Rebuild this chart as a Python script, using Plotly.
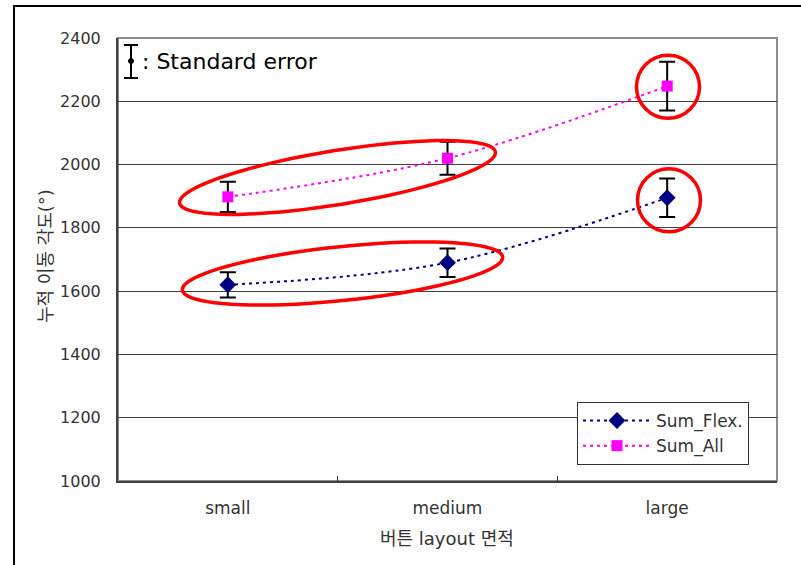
import math
import plotly.graph_objects as go

# ---------------- data ----------------
categories = ["small", "medium", "large"]
sum_flex = [1620, 1690, 1895]
sum_flex_err = [40, 45, 61]
sum_all = [1898, 2020, 2248]
sum_all_err = [48, 52, 77]
y_ticks = [1000, 1200, 1400, 1600, 1800, 2000, 2200, 2400]

# ---------------- geometry ----------------
W, H = 801, 565
L, T, R, B = 118, 38, 777, 481   # plot area in pixels
PW, PH = R - L, B - T


def px(x):
    return (x - L) / PW


def py(y):
    return (B - y) / PH


def ellipse_path(cx, cy, a, b, ang_deg, n=80):
    th = math.radians(ang_deg)
    pts = []
    for i in range(n + 1):
        t = 2 * math.pi * i / n
        ex = a * math.cos(t)
        ey = b * math.sin(t)
        x = cx + ex * math.cos(th) + ey * math.sin(th)
        y = cy - ex * math.sin(th) + ey * math.cos(th)
        pts.append((px(x), py(y)))
    d = "M" + " L".join(f"{x:.5f},{y:.5f}" for x, y in pts) + " Z"
    return d


FONT = "DejaVu Sans, Noto Sans CJK KR, sans-serif"
TXT = "#333333"

fig = go.Figure()
fig.add_trace(go.Scatter(
    x=categories, y=sum_flex, name="Sum_Flex.",
    mode="lines+markers",
    line=dict(color="#000080", width=2, dash="3px,4px", shape="spline", smoothing=1),
    marker=dict(symbol="diamond", size=13, color="#000080"),
    error_y=dict(type="data", array=sum_flex_err, visible=True, color="black", thickness=2, width=8),
))
fig.add_trace(go.Scatter(
    x=categories, y=sum_all, name="Sum_All",
    mode="lines+markers",
    line=dict(color="#FF00FF", width=2, dash="3px,4px", shape="spline", smoothing=1),
    marker=dict(symbol="square", size=11, color="#FF00FF"),
    error_y=dict(type="data", array=sum_all_err, visible=True, color="black", thickness=2, width=8),
))

shapes = []
# outer chart frame (partially cropped)
shapes.append(dict(type="rect", xref="paper", yref="paper",
                   x0=px(14), x1=px(W + 10), y0=py(H + 10), y1=py(6),
                   line=dict(color="black", width=2), layer="below"))
# plot area border (gray)
shapes.append(dict(type="rect", xref="paper", yref="paper",
                   x0=0, x1=1, y0=0, y1=1,
                   line=dict(color="#8c8c8c", width=2), layer="below"))
# red highlight ellipses
red = dict(color="#FF0000", width=3.5)
shapes.append(dict(type="path", xref="paper", yref="paper",
                   path=ellipse_path(337.5, 177.5, 160, 27, 9.2), line=red))
shapes.append(dict(type="path", xref="paper", yref="paper",
                   path=ellipse_path(342.5, 273.5, 161, 27, 5.9), line=red))
for cx, cy in [(668, 86.7), (669, 200.3)]:
    r = 31.5
    shapes.append(dict(type="circle", xref="paper", yref="paper",
                       x0=px(cx - r), x1=px(cx + r), y0=py(cy + r), y1=py(cy - r), line=red))
# standard error icon
ix = 131
shapes.append(dict(type="line", xref="paper", yref="paper",
                   x0=px(ix), x1=px(ix), y0=py(45), y1=py(78), line=dict(color="black", width=2)))
for yy in (45, 78):
    shapes.append(dict(type="line", xref="paper", yref="paper",
                       x0=px(ix - 7), x1=px(ix + 7), y0=py(yy), y1=py(yy), line=dict(color="black", width=2)))
shapes.append(dict(type="circle", xref="paper", yref="paper",
                   x0=px(ix - 2.5), x1=px(ix + 2.5), y0=py(63.5), y1=py(58.5),
                   fillcolor="black", line=dict(color="black", width=1)))

annotations = [
    dict(text=": Standard error", xref="paper", yref="paper", x=px(140), y=py(61),
         xanchor="left", yanchor="middle", showarrow=False,
         font=dict(family=FONT, size=22, color="black")),
    dict(text="누적 이동 각도(°)", xref="paper", yref="paper", x=px(45), y=py(256),
         xanchor="center", yanchor="middle", textangle=-90, showarrow=False,
         font=dict(family=FONT, size=18, color=TXT)),
    dict(text="버튼 layout 면적", xref="paper", yref="paper", x=px(447), y=py(538),
         xanchor="center", yanchor="middle", showarrow=False,
         font=dict(family=FONT, size=18, color=TXT)),
]

fig.update_layout(
    width=W, height=H,
    margin=dict(l=L, r=W - R, t=T, b=H - B, pad=0),
    paper_bgcolor="white", plot_bgcolor="white",
    font=dict(family=FONT, size=16, color=TXT),
    shapes=shapes, annotations=annotations,
    showlegend=True,
    legend=dict(x=px(577), y=py(402), xanchor="left", yanchor="top",
                bgcolor="white", bordercolor="#333333", borderwidth=1,
                font=dict(family=FONT, size=17, color=TXT),
                itemwidth=68, tracegroupgap=0),
    xaxis=dict(type="category", range=[-0.5, 2.5], tickson="boundaries",
               ticks="inside", ticklen=5, tickcolor="#333333", tickwidth=1,
               showline=True, linecolor="#404040", linewidth=2,
               showgrid=False, zeroline=False, ticklabelstandoff=11,
               tickfont=dict(family=FONT, size=17, color=TXT)),
    yaxis=dict(range=[1000, 2400], tickvals=y_ticks,
               showline=True, linecolor="#404040", linewidth=2,
               showgrid=True, gridcolor="#404040", gridwidth=1,
               zeroline=False, ticks="", ticklabelstandoff=12,
               tickfont=dict(family=FONT, size=16, color=TXT)),
)

fig.write_html("out.html", config={"displayModeBar": False},
               post_script="document.body.style.margin='0px';")
